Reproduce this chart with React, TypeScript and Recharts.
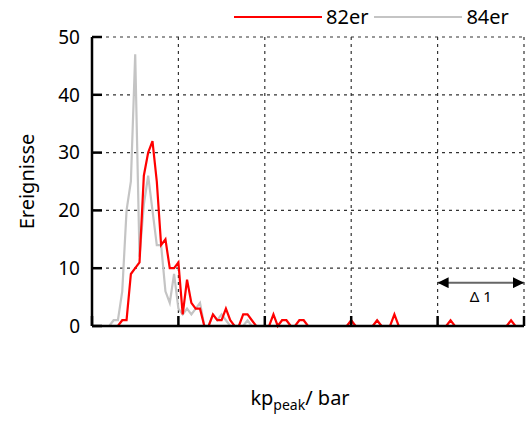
import React from "react"
import { CartesianGrid, Line, LineChart, ReferenceLine, XAxis, YAxis } from "recharts"

// histogram bins of 0.05 bar, counts per bin
const binWidth = 0.05
const counts82 = [
  null, null, null, null, 0, 0, 0, 1, 1, 9,
  10, 11, 26, 30, 32, 25, 14, 15, 10, 10,
  11, 2, 8, 4, 3, 3, 0, 0, 2, 1,
  1, 3, 1, 0, 0, 2, 2, 1, 0, 0,
  0, 0, 2, 0, 1, 1, 0, 0, 1, 1,
  0, 0, 0, 0, 0, 0, 0, 0, 0, 0,
  1, 0, 0, 0, 0, 0, 1, 0, 0, 0,
  2, 0, 0, 0, 0, 0, 0, 0, 0, 0,
  0, 0, 0, 1, 0, 0, 0, 0, 0, 0,
  0, 0, 0, 0, 0, 0, 0, 1, 0, 0,
  0,
]
const counts84 = [
  null, null, null, 0, 0, 1, 1, 6, 20, 25,
  47, 12, 21, 26, 20, 14, 14, 6, 4, 9,
  3, 2, 3, 2, 3, 4, 0, 0, 2, 1,
  2, 1, 0, 0, 0, 0, 1, 0, 0, 0,
  0, 0, 0, 0, 0, 0, 0, 0, 0, 0,
  0, 0, 0, 0, 0, 0, 0, 0, 0, 0,
  1, 0, 0, 0, 0, 0, 1, 0, 0, 0,
  0, 0, 0, 0, 0, 0, 0, 0, 0, 0,
  0, 0, 0, 0, 0, 0, 0, 0, 0, 0,
  0, 0, 0, 0, 0, 0, 0, 0, 0, 0,
  0,
]
const xTicks = [0, 1, 2, 3, 4, 5]
const yTicks = [0, 10, 20, 30, 40, 50]
const deltaFrom = 4
const deltaTo = 5
const deltaLevel = 7.5

const data = counts82.map((v, i) => ({
  kp: +(i * binWidth).toFixed(2),
  s82: v,
  s84: counts84[i],
}))

const font = "'Noto Sans', sans-serif"
const frame = { stroke: "#000", strokeWidth: 2.5 }

const NoTick = () => <g />

function DeltaArrow(props: any) {
  const { x1, y1, x2, y2 } = props
  const mx = (x1 + x2) / 2
  return (
    <g>
      <defs>
        <marker id="arrowHead" viewBox="0 0 10 10" refX="10" refY="5" markerWidth="7" markerHeight="5.5" orient="auto-start-reverse" markerUnits="strokeWidth">
          <path d="M0,0 L10,5 L0,10 z" fill="#000" />
        </marker>
      </defs>
      <line x1={x1} y1={y1} x2={x2} y2={y2} stroke="#666" strokeWidth={2} markerStart="url(#arrowHead)" markerEnd="url(#arrowHead)" />
      <text x={mx} y={y1 + 19} textAnchor="middle" fontSize={15} fontFamily={font} fill="#000">
        Δ 1
      </text>
    </g>
  )
}

function XLabel({ viewBox }: any) {
  const cx = viewBox.x + viewBox.width / 2 - 8
  return (
    <text x={cx} y={viewBox.y + 79} textAnchor="middle" fontSize={20} fontFamily={font} fill="#000">
      kp<tspan fontSize={14} dy={5}>peak</tspan>
      <tspan dy={-5}>/ bar</tspan>
    </text>
  )
}

function YLabel({ viewBox }: any) {
  const cx = viewBox.x + 26
  const cy = viewBox.y + viewBox.height / 2
  return (
    <text x={cx} y={cy} transform={`rotate(-90 ${cx} ${cy})`} textAnchor="middle" dominantBaseline="central" fontSize={20} fontFamily={font} fill="#000">
      Ereignisse
    </text>
  )
}

function LegendRow() {
  const item = (color: string, label: string, lineWidth: number) => (
    <div style={{ display: "flex", alignItems: "center" }}>
      <div style={{ width: lineWidth, height: 2, background: color, marginRight: 4 }} />
      <span>{label}</span>
    </div>
  )
  return (
    <div style={{ position: "absolute", left: 234, top: 3, display: "flex", gap: 6, fontFamily: font, fontSize: 20, lineHeight: "28px", color: "#000" }}>
      {item("#ff0000", "82er", 88)}
      {item("#c4c4c4", "84er", 88)}
    </div>
  )
}

export default function App() {
  return (
    <div style={{ position: "absolute", left: 0, top: 0, width: 526, height: 421, background: "#fff" }}>
      <LegendRow />
      <LineChart width={526} height={421} data={data} margin={{ top: 37, right: 2, bottom: 0, left: 0 }}>
        <CartesianGrid stroke="#333" strokeDasharray="3 4" strokeWidth={1.2} />
        <XAxis
          dataKey="kp"
          type="number"
          domain={[0, 5]}
          ticks={xTicks}
          height={95}
          tick={NoTick}
          tickSize={-10}
          tickLine={frame}
          axisLine={frame}
          label={<XLabel />}
        />
        <XAxis xAxisId="top" orientation="top" dataKey="kp" type="number" domain={[0, 5]} height={0} tick={false} tickLine={false} axisLine={frame} />
        <YAxis
          type="number"
          domain={[0, 50]}
          ticks={yTicks}
          width={92}
          tickSize={-10}
          tickMargin={22}
          tick={{ fill: "#000", fontSize: 19, fontFamily: font }}
          tickLine={frame}
          axisLine={frame}
          label={<YLabel />}
        />
        <YAxis yAxisId="right" orientation="right" type="number" domain={[0, 50]} width={0} tick={false} tickLine={false} axisLine={frame} />
        <ReferenceLine
          segment={[
            { x: deltaFrom, y: deltaLevel },
            { x: deltaTo, y: deltaLevel },
          ]}
          shape={<DeltaArrow />}
        />
        <Line type="linear" dataKey="s84" stroke="#c4c4c4" strokeWidth={2.2} dot={false} isAnimationActive={false} />
        <Line type="linear" dataKey="s82" stroke="#ff0000" strokeWidth={2.2} dot={false} isAnimationActive={false} />
      </LineChart>
    </div>
  )
}
